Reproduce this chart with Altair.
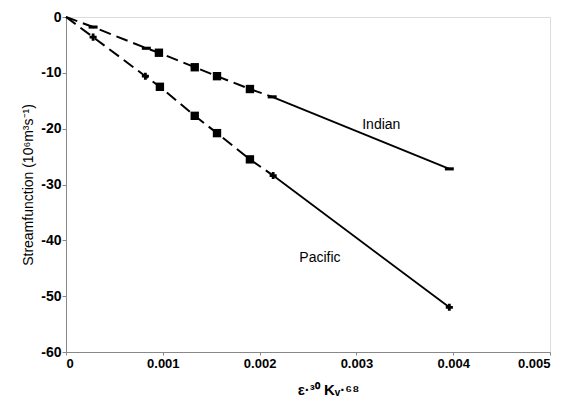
import altair as alt
import pandas as pd

indian_x = [0, 0.00028, 0.00083, 0.00096, 0.00133, 0.00156, 0.0019, 0.00213, 0.00396]
indian_y = [0, -1.8, -5.6, -6.4, -9.0, -10.6, -12.9, -14.3, -27.2]
indian_kind = ["none", "small", "small", "square", "square", "square", "square", "small", "small"]

pacific_x = [0, 0.00028, 0.00082, 0.00097, 0.00133, 0.00156, 0.0019, 0.00214, 0.00396]
pacific_y = [0, -3.6, -10.6, -12.5, -17.7, -20.8, -25.5, -28.4, -52.0]
pacific_kind = ["none", "small", "small", "square", "square", "square", "square", "small", "small"]

label_text = ["Indian", "Pacific"]
label_x = [0.00306, 0.00241]
label_y = [-19.3, -43.1]

rows = []
for name, xs, ys, ks in [("Indian", indian_x, indian_y, indian_kind),
                         ("Pacific", pacific_x, pacific_y, pacific_kind)]:
    n = len(xs)
    for i, (x, y, k) in enumerate(zip(xs, ys, ks)):
        rows.append(dict(series=name, x=x, y=y, kind=k, idx=i, n=n))
df = pd.DataFrame(rows)

dashed = df[df.idx <= df.n - 2].copy()
solid = df[df.idx >= df.n - 2].copy()

xscale = alt.Scale(domain=[0, 0.005], nice=False)
yscale = alt.Scale(domain=[-60, 0], nice=False)

xenc = alt.X("x:Q", scale=xscale,
             axis=alt.Axis(values=[0, 0.001, 0.002, 0.003, 0.004, 0.005], format="~g",
                           title="ε·³⁰  Kᵥ·⁶⁸", titleFontWeight="bold", titleFontSize=15,
                           titlePadding=12, titleX=262, labelFontSize=13, tickSize=3,
                           labelFontWeight="bold", labelPadding=2, grid=False))
yenc = alt.Y("y:Q", scale=yscale,
             axis=alt.Axis(values=[0, -10, -20, -30, -40, -50, -60],
                           labelExpr="replace(datum.label, '−', '-')",
                           title="Streamfunction (10⁶m³s⁻¹)", titleFontSize=14,
                           titleFontWeight="normal", titlePadding=5,
                           labelFontSize=14, labelFontWeight="bold",
                           tickSize=4, labelPadding=1, grid=False))

dash_line = alt.Chart(dashed).mark_line(color="black", strokeWidth=2,
                                        strokeDash=[12, 6]).encode(
    x=xenc, y=yenc, detail="series:N", order="idx:Q")
solid_line = alt.Chart(solid).mark_line(color="black", strokeWidth=1.8).encode(
    x="x:Q", y="y:Q", detail="series:N", order="idx:Q")

squares = alt.Chart(df).transform_filter("datum.kind == 'square'").mark_point(
    shape="square", filled=True, color="black", size=70, opacity=1).encode(x="x:Q", y="y:Q")
bars = alt.Chart(df).transform_filter(
    "datum.kind == 'small' && datum.series == 'Indian'").mark_point(
    shape="M-1,-0.35L1,-0.35L1,0.35L-1,0.35Z", filled=True, color="black",
    size=80, opacity=1).encode(x="x:Q", y="y:Q")
pluses = alt.Chart(df).transform_filter(
    "datum.kind == 'small' && datum.series == 'Pacific'").mark_point(
    shape="cross", filled=True, color="black", size=50, opacity=1).encode(x="x:Q", y="y:Q")

labels = alt.Chart(pd.DataFrame(dict(t=label_text, x=label_x, y=label_y))).mark_text(
    align="left", baseline="middle", fontSize=14, color="black",
    font="Liberation Sans").encode(x="x:Q", y="y:Q", text="t:N")

chart = alt.layer(dash_line, solid_line, squares, bars, pluses, labels).properties(
    width=484, height=335,
    autosize=alt.AutoSizeParams(type="none"),
    padding={"left": 66, "top": 17, "right": 21, "bottom": 55},
).configure_view(stroke="black", strokeWidth=1.5).configure_axis(
    domainColor="black", domainWidth=2, tickColor="black", tickWidth=1.5,
    labelColor="black", titleColor="black", labelFont="Liberation Sans",
    titleFont="Liberation Sans").configure(background="white")

chart.save("out.html", embed_options={"renderer": "svg", "actions": False})
